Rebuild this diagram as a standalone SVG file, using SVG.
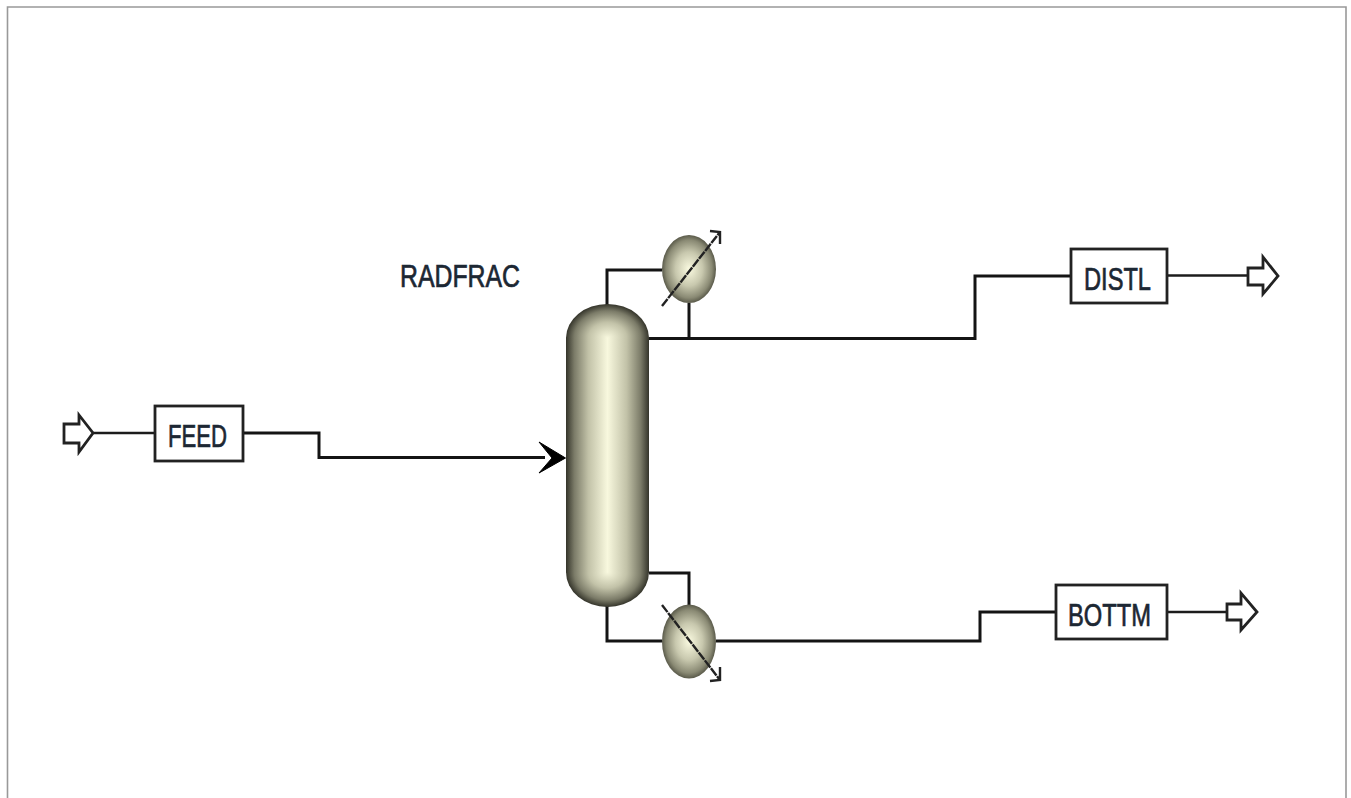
<svg xmlns="http://www.w3.org/2000/svg" width="1351" height="798" viewBox="0 0 1351 798">
<style>
.ln{fill:none;stroke:#141414;stroke-width:3}
.thin{fill:none;stroke:#1c1c1c;stroke-width:2.4}
.box{fill:#fff;stroke:#222;stroke-width:2.8}
.port{fill:#fff;stroke:#222;stroke-width:2.8;stroke-linejoin:miter}
.lbl{font-family:"Liberation Sans",Arial,sans-serif;font-size:31px;fill:#1c2733;stroke:#1c2733;stroke-width:.7;text-anchor:start}
.diag{fill:none;stroke:#222;stroke-width:2.4}
</style>
<defs>
<linearGradient id="body" x1="0" x2="1" y1="0" y2="0">
<stop offset="0" stop-color="#34342a"/><stop offset=".1" stop-color="#7b7b68"/><stop offset=".27" stop-color="#c2c2a8"/><stop offset=".5" stop-color="#f8f8de"/><stop offset=".73" stop-color="#c2c2a8"/><stop offset=".9" stop-color="#7b7b68"/><stop offset="1" stop-color="#34342a"/>
</linearGradient>
<radialGradient id="domeT" cx=".5" cy="1" r="1" fx=".5" fy="1" gradientTransform="translate(.5 1) scale(.5 1) translate(-.5 -1)">
<stop offset="0" stop-color="#f8f8de"/><stop offset=".46" stop-color="#c2c2a8"/><stop offset=".8" stop-color="#7b7b68"/><stop offset="1" stop-color="#34342a"/>
</radialGradient>
<radialGradient id="domeB" cx=".5" cy="0" r="1" fx=".5" fy="0" gradientTransform="translate(.5 0) scale(.5 1) translate(-.5 0)">
<stop offset="0" stop-color="#f8f8de"/><stop offset=".46" stop-color="#c2c2a8"/><stop offset=".8" stop-color="#7b7b68"/><stop offset="1" stop-color="#34342a"/>
</radialGradient>
<radialGradient id="hx" cx=".5" cy=".5" r=".5">
<stop offset="0" stop-color="#fafae0"/><stop offset=".5" stop-color="#c8c8ae"/><stop offset=".85" stop-color="#8a8a74"/><stop offset="1" stop-color="#5a5a4a"/>
</radialGradient>
</defs>
<rect width="1351" height="798" fill="#fff"/>
<path d="M7.500 798V7H1346V798" fill="none" stroke="#999" stroke-width="1.6"/>
<g id="connectors">
<path class="thin" d="M93 433H155"/>
<path class="ln" d="M243 433H319V457.500H545"/>
<path d="M539 442L565.500 458L539 473L552 458Z" fill="#000" stroke="#000" stroke-width="1"/>
<path class="ln" d="M607 305V270H662"/>
<path class="ln" d="M689 303V338"/>
<path class="ln" d="M649 338.500H975V276H1071"/>
<path class="thin" d="M1167 275.500H1248"/>
<path class="ln" d="M649 573H689V605"/>
<path class="ln" d="M607 606V641H662"/>
<path class="ln" d="M716 641H980V612H1056"/>
<path class="thin" d="M1167 612H1227"/>
</g>
<g id="FEED-in"><path class="port" d="M64 424H79V415L93 433L79 452V443H64Z"/></g>
<g id="FEED"><rect class="box" x="155" y="406" width="88" height="55"/><text class="lbl" x="168" y="447" textLength="59" lengthAdjust="spacingAndGlyphs">FEED</text></g>
<g id="RADFRAC">
<text class="lbl" x="400" y="287" textLength="120" lengthAdjust="spacingAndGlyphs">RADFRAC</text>
<rect x="566" y="337.500" width="83" height="235" fill="url(#body)"/>
<path d="M566 338A41.500 34 0 0 1 649 338Z" fill="url(#domeT)"/>
<path d="M566 572A41.500 35 0 0 0 649 572Z" fill="url(#domeB)"/>
</g>
<g id="condenser">
<ellipse cx="689" cy="269" rx="27" ry="34" fill="url(#hx)"/>
<path class="diag" d="M662 306L720 232" stroke-dasharray="9 1"/>
<path class="diag" d="M710 231L720 232V244"/>
</g>
<g id="reboiler">
<ellipse cx="689" cy="641.500" rx="27" ry="37" fill="url(#hx)"/>
<path class="diag" d="M662 605L720 680" stroke-dasharray="9 1"/>
<path class="diag" d="M720 667V680L710 681"/>
</g>
<g id="DISTL"><rect class="box" x="1071" y="249" width="96" height="54"/><text class="lbl" x="1084" y="290" textLength="67" lengthAdjust="spacingAndGlyphs">DISTL</text></g>
<g id="DISTL-out"><path class="port" d="M1248 268H1263V257L1278 276L1263 294V285H1248Z"/></g>
<g id="BOTTM"><rect class="box" x="1056" y="585" width="111" height="54"/><text class="lbl" x="1068" y="626" textLength="83" lengthAdjust="spacingAndGlyphs">BOTTM</text></g>
<g id="BOTTM-out"><path class="port" d="M1227 604H1241V593L1257 612L1241 630V620H1227Z"/></g>
</svg>
